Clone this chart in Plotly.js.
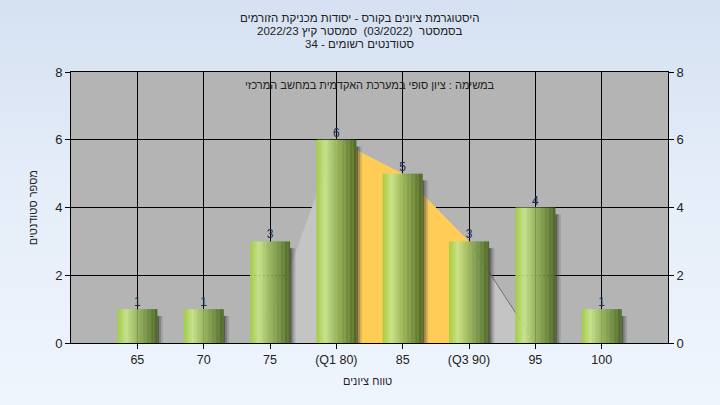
<!DOCTYPE html>
<html>
<head>
<meta charset="utf-8">
<script src="https://cdn.plot.ly/plotly-3.0.1.min.js"></script>
<style>
  html, body { margin:0; padding:0; }
  body { width:720px; height:405px; background: linear-gradient(to bottom, #d5e1f2 0%, #e6eef9 50%, #eff5fd 100%); }
  #chart { width:720px; height:405px; }
</style>
</head>
<body>
<div id="chart"></div>
<script>
// ---- data ----
const grades = [65, 70, 75, 80, 85, 90, 95, 100];
const tickLabels = ["65", "70", "75", "(Q1 80)", "85", "(Q3 90)", "95", "100"];
const counts = [1, 1, 3, 6, 5, 3, 4, 1];
// quartile band (Q1..Q3) outline
const iqrX = [80, 85, 90];
const iqrY = [6, 5, 3];
// light grey distribution outline
const distX = [75, 80, 85, 90, 95];
const distY = [0.6, 6, 5, 3, 0];

const titleLines = [
  "היסטוגרמת ציונים בקורס - יסודות מכניקת הזורמים",
  "בסמסטר  (03/2022)  סמסטר קיץ 2022/23",
  "סטודנטים רשומים - 34"
];
const subTitle = "במשימה : ציון סופי במערכת האקדמית במחשב המרכזי";
const yTitle = "מספר סטודנטים";
const xTitle = "טווח ציונים";

const RLE = "\u202B", PDF = "\u202C";
const rtl = s => RLE + s + PDF;

// ---- styling helpers ----
const barW = 3;
const stops = [
  [0.00, [160, 206, 62]],
  [0.22, [200, 228, 140]],
  [0.45, [160, 190, 100]],
  [0.75, [115, 145, 65]],
  [1.00, [76, 102, 36]]
];
function colAt(t) {
  for (let i = 0; i < stops.length - 1; i++) {
    const [t0, c0] = stops[i], [t1, c1] = stops[i + 1];
    if (t >= t0 && t <= t1) {
      const f = (t - t0) / (t1 - t0);
      const c = c0.map((v, k) => Math.round(v + (c1[k] - v) * f));
      return `rgb(${c[0]},${c[1]},${c[2]})`;
    }
  }
  return 'rgb(76,102,36)';
}

const traces = [];
// grey distribution area (base axes, beneath bars)
traces.push({
  type: 'scatter', x: distX, y: distY, mode: 'lines', fill: 'tozeroy',
  fillcolor: '#c4c4c4', line: {width: 0, color: 'rgba(0,0,0,0)'},
  hoverinfo: 'skip', showlegend: false
});
traces.push({
  type: 'scatter', x: distX.slice(-2), y: distY.slice(-2), mode: 'lines',
  line: {width: 1, color: '#707070'}, hoverinfo: 'skip', showlegend: false
});
// orange IQR area
traces.push({
  type: 'scatter', x: iqrX, y: iqrY, mode: 'lines', fill: 'tozeroy',
  fillcolor: '#ffcc55', line: {width: 0, color: 'rgba(0,0,0,0)'},
  hoverinfo: 'skip', showlegend: false
});
// shadows (overlay axes, above areas)
const shadowCols = ['rgba(50,50,50,0.7)', 'rgba(70,70,70,0.45)', 'rgba(100,100,100,0.25)'];
shadowCols.forEach((c, i) => {
  traces.push({
    type: 'bar', x: grades, y: counts.map(v => v - 0.2), width: 0.14, offset: barW / 2 + i * 0.14,
    xaxis: 'x2', yaxis: 'y3',
    marker: {color: c, line: {width: 0}}, hoverinfo: 'skip', showlegend: false
  });
});
// cylinder bars as stripes
const N = 30;
for (let i = 0; i < N; i++) {
  traces.push({
    type: 'bar', x: grades, y: counts, width: barW / N * 1.15, offset: -barW / 2 + i * barW / N,
    xaxis: 'x2', yaxis: 'y3',
    marker: {color: colAt((i + 0.5) / N), line: {width: 0}},
    hoverinfo: 'skip', showlegend: false
  });
}
// value labels
traces.push({
  type: 'scatter', x: grades, y: counts, mode: 'text', text: counts.map(String),
  xaxis: 'x2', yaxis: 'y3',
  textposition: 'top center', textfont: {family: 'Liberation Sans, Arial, sans-serif', size: 12, color: '#1c2c50'},
  hoverinfo: 'skip', showlegend: false, cliponaxis: false
});
// dummy for right axis
traces.push({type: 'scatter', x: [grades[0]], y: [0], yaxis: 'y2', mode: 'markers',
  marker: {opacity: 0}, hoverinfo: 'skip', showlegend: false});

const font = {family: 'Liberation Sans, Arial, sans-serif', size: 12, color: '#222'};
const hebFont = {family: font.family, size: 11, color: '#222'};
const plotTop = 72, plotBottom = 343;
const pxToPaperY = px => (plotBottom - px) / (plotBottom - plotTop);

const annotations = [
  {text: rtl(subTitle), xref: 'paper', yref: 'y', x: 0.5, y: 7.62, showarrow: false,
    xanchor: 'center', yanchor: 'middle', font: hebFont},
  {text: rtl(yTitle), xref: 'paper', yref: 'paper', x: -0.064, y: 0.5, textangle: -90,
    showarrow: false, xanchor: 'center', yanchor: 'middle', font: hebFont},
  {text: rtl(xTitle), xref: 'paper', yref: 'paper', x: 0.496, y: pxToPaperY(381), showarrow: false,
    xanchor: 'center', yanchor: 'middle', font: {family: font.family, size: 11, color: '#2a1a2a'}}
];
const titleY = [18, 31, 44];
titleLines.forEach((t, i) => annotations.push({
  text: rtl(t), xref: 'paper', yref: 'paper', x: 0.484, y: pxToPaperY(titleY[i]), showarrow: false,
  xanchor: 'center', yanchor: 'middle', font: {family: font.family, size: 11.5, color: '#222'}
}));

const layout = {
  width: 720, height: 405,
  paper_bgcolor: 'rgba(0,0,0,0)', plot_bgcolor: '#b4b4b4',
  margin: {l: 71, r: 52, t: 72, b: 62},
  barmode: 'overlay',
  font: font,
  xaxis: {
    range: [60, 105], tickvals: grades, ticktext: tickLabels,
    showgrid: true, gridcolor: '#000', gridwidth: 1, zeroline: false,
    ticks: 'outside', ticklen: 5, tickcolor: '#000',
    showline: true, linecolor: '#000', linewidth: 1, mirror: true,
    tickfont: {family: font.family, size: 12.5, color: '#222'}
  },
  xaxis2: {overlaying: 'x', range: [60, 105], visible: false, showgrid: false},
  yaxis: {
    range: [0, 8], tickvals: [0, 2, 4, 6, 8],
    showgrid: true, gridcolor: '#000', gridwidth: 1, zeroline: false,
    ticks: 'outside', ticklen: 5, tickcolor: '#000',
    showline: true, linecolor: '#000', linewidth: 1, mirror: true,
    tickfont: {family: font.family, size: 13, color: '#222'}
  },
  yaxis2: {
    overlaying: 'y', side: 'right', range: [0, 8], tickvals: [0, 2, 4, 6, 8],
    showgrid: false, zeroline: false, ticks: 'outside', ticklen: 5, tickcolor: '#000',
    showline: false, tickfont: {family: font.family, size: 13, color: '#222'}
  },
  yaxis3: {overlaying: 'y', range: [0, 8], visible: false, showgrid: false},
  annotations: annotations
};

Plotly.newPlot('chart', traces, layout, {staticPlot: true, displayModeBar: false});
</script>
</body>
</html>
